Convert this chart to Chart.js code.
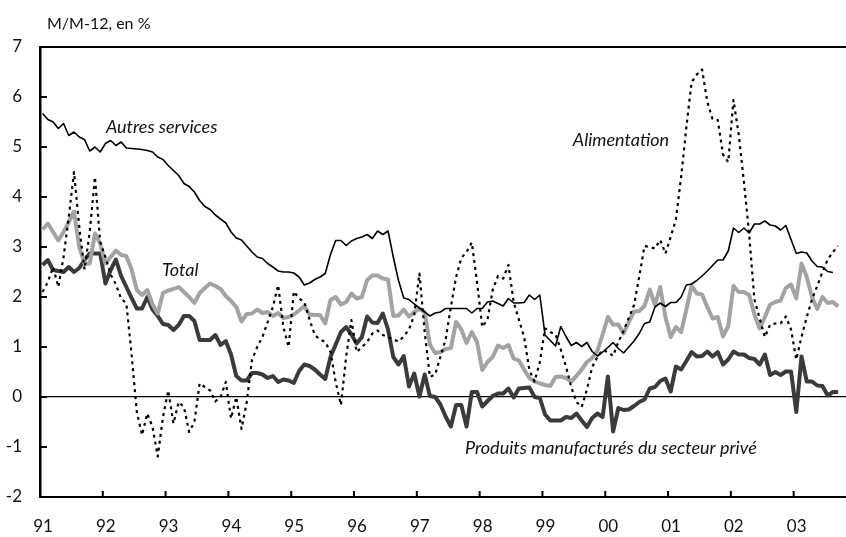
<!DOCTYPE html>
<html>
<head>
<meta charset="utf-8">
<script src="https://cdn.jsdelivr.net/npm/chart.js@4.4.1/dist/chart.umd.min.js"></script>
<style>
  body { margin: 0; background: #fff; }
  #wrap { width: 846px; height: 537px; position: relative; }
</style>
</head>
<body>
<div id="wrap"><canvas id="inflationChart"></canvas></div>
<script>
// Glissement annuel, en %, données mensuelles de janvier 1991 à septembre 2003
const yearLabels = ['91', '92', '93', '94', '95', '96', '97', '98', '99', '00', '01', '02', '03'];

const autresServices = [
    5.67, 5.55, 5.5, 5.37, 5.47, 5.23, 5.3, 5.2, 5.15, 4.92, 5.0, 4.9,
    5.07, 5.13, 5.03, 5.1, 4.98, 4.97, 4.96, 4.95, 4.93, 4.9, 4.8, 4.75,
    4.63, 4.53, 4.43, 4.27, 4.21, 4.1, 3.93, 3.81, 3.75, 3.64, 3.56, 3.48,
    3.3, 3.18, 3.14, 3.02, 2.9, 2.8, 2.77, 2.67, 2.6, 2.52, 2.5, 2.5,
    2.48, 2.4, 2.24, 2.28, 2.35, 2.4, 2.47, 2.85, 3.13, 3.13, 3.03, 3.12,
    3.17, 3.2, 3.25, 3.17, 3.32, 3.25, 3.32, 2.8, 2.33, 1.98, 1.95, 1.86,
    1.78, 1.7, 1.62, 1.68, 1.7, 1.77, 1.77, 1.77, 1.77, 1.77, 1.68, 1.77,
    1.77, 1.9, 1.92, 1.87, 1.82, 1.97, 1.88, 1.88, 1.89, 2.04, 1.95, 2.04,
    1.24, 1.13, 1.02, 1.41, 1.21, 1.03, 1.09, 1.01, 1.09, 0.91, 0.82, 0.9,
    0.99, 1.09, 0.97, 0.88, 1.0, 1.12, 1.27, 1.47, 1.5, 1.8, 1.88, 1.81,
    1.89, 1.89, 2.0, 2.24, 2.26, 2.33, 2.42, 2.52, 2.63, 2.74, 2.74, 2.92,
    3.38, 3.29, 3.38, 3.28, 3.46, 3.46, 3.52, 3.44, 3.42, 3.34, 3.43, 3.15,
    2.87, 2.9, 2.88, 2.72, 2.61, 2.6, 2.51, 2.49
];

const alimentation = [
    2.1, 2.3, 2.6, 2.2, 2.8, 3.6, 4.5, 3.4, 2.55, 3.3, 4.4, 3.1,
    2.8, 2.45, 2.25, 1.97, 1.87, 0.85, -0.3, -0.76, -0.33, -0.6, -1.19, -0.4,
    0.13, -0.53, -0.1, -0.2, -0.7, -0.5, 0.27, 0.2, 0.13, -0.09, 0.0, 0.3,
    -0.43, 0.0, -0.64, -0.1, 0.74, 1.0, 1.2, 1.5, 1.8, 2.24, 1.4, 1.0,
    2.11, 1.97, 1.9, 1.55, 1.24, 1.15, 1.1, 0.9, 0.3, -0.16, 0.81, 1.54,
    0.9, 1.0, 1.1, 1.27, 1.33, 1.24, 1.2, 1.15, 1.11, 1.21, 1.35, 1.64,
    2.47, 1.3, 0.4, 0.45, 0.8, 1.15, 1.8, 2.4, 2.78, 2.9, 3.09, 2.3,
    1.4, 1.55, 2.14, 2.42, 2.37, 2.64, 1.9, 1.55, 1.2, 0.54, 0.31, 0.7,
    1.37, 1.3, 1.25, 0.95, 0.61, 0.2, -0.1, -0.2, 0.15, 0.6, 0.8, 0.94,
    0.9, 0.82, 1.1, 1.32, 1.58, 1.84, 2.41, 3.02, 3.0, 2.97, 3.14, 2.87,
    3.2, 3.55, 4.4, 5.4, 6.3, 6.45, 6.55, 5.9, 5.56, 5.54, 4.85, 4.7,
    5.94, 5.25, 4.3, 3.25, 1.95, 1.57, 1.2, 1.45, 1.47, 1.47, 1.61, 1.35,
    0.75, 1.2, 1.6, 1.95, 2.22, 2.5, 2.75, 2.9, 3.02
];

const total = [
    3.35, 3.47, 3.3, 3.13, 3.3, 3.5, 3.71, 3.0, 2.67, 2.67, 3.27, 3.07,
    2.67, 2.8, 2.93, 2.84, 2.82, 2.55, 2.14, 2.04, 2.14, 1.85, 1.67, 2.08,
    2.13, 2.16, 2.2, 2.1, 2.0, 1.88, 2.08, 2.18, 2.27, 2.22, 2.16, 2.02,
    1.92, 1.8, 1.51, 1.66, 1.67, 1.75, 1.68, 1.7, 1.62, 1.68, 1.58, 1.6,
    1.65, 1.73, 1.82, 1.65, 1.64, 1.64, 1.47, 1.94, 2.0, 1.85, 1.9, 2.07,
    1.97, 2.0, 2.34, 2.43, 2.43, 2.37, 2.35, 1.62, 1.63, 1.75, 1.61, 1.7,
    1.76, 1.7, 1.05, 0.88, 0.9, 0.96, 0.98, 1.5, 1.35, 1.08, 1.3, 1.1,
    0.54, 0.7, 0.8, 1.03, 0.98, 1.04, 0.77, 0.73, 0.55, 0.38, 0.31, 0.27,
    0.24, 0.22, 0.4, 0.41, 0.38, 0.31, 0.42, 0.55, 0.7, 0.78, 0.92, 1.25,
    1.6, 1.45, 1.45, 1.27, 1.5, 1.71, 1.72, 1.82, 2.15, 1.84, 2.2, 1.6,
    1.2, 1.4, 1.3, 1.75, 2.22, 2.07, 2.05, 1.8, 1.57, 1.6, 1.21, 1.42,
    2.22, 2.1, 2.1, 2.04, 1.65, 1.37, 1.6, 1.85, 1.9, 1.93, 2.18, 2.25,
    1.97, 2.67, 2.4, 2.0, 1.76, 2.0, 1.88, 1.9, 1.81
];

const produitsManufactures = [
    2.64, 2.74, 2.54, 2.52, 2.5, 2.6, 2.5, 2.58, 2.74, 2.87, 2.87, 2.87,
    2.27, 2.54, 2.75, 2.42, 2.2, 1.98, 1.77, 1.77, 2.0, 1.75, 1.62, 1.46,
    1.44, 1.34, 1.44, 1.62, 1.62, 1.52, 1.14, 1.14, 1.14, 1.24, 1.04, 1.12,
    0.85, 0.42, 0.33, 0.33, 0.48, 0.48, 0.45, 0.38, 0.42, 0.3, 0.35, 0.33,
    0.28, 0.52, 0.65, 0.62, 0.55, 0.45, 0.36, 0.8, 1.05, 1.3, 1.4, 1.25,
    1.07, 1.2, 1.61, 1.49, 1.48, 1.67, 1.35, 0.8, 0.65, 0.82, 0.21, 0.47,
    0.01, 0.45, 0.02, 0.0, -0.15, -0.39, -0.59, -0.16, -0.16, -0.59, 0.1, 0.1,
    -0.19, -0.08, 0.02, 0.07, 0.07, 0.17, -0.01, 0.17, 0.18, 0.19, 0.0, -0.02,
    -0.35, -0.47, -0.47, -0.47, -0.4, -0.42, -0.33, -0.47, -0.6, -0.42, -0.33, -0.4,
    0.41, -0.69, -0.22, -0.26, -0.25, -0.18, -0.1, -0.05, 0.17, 0.2, 0.32, 0.37,
    0.11, 0.61, 0.55, 0.72, 0.9, 0.81, 0.82, 0.91, 0.81, 0.9, 0.65, 0.75,
    0.91, 0.85, 0.85, 0.78, 0.76, 0.65, 0.85, 0.44, 0.5, 0.44, 0.51, 0.51,
    -0.3, 0.81, 0.31, 0.31, 0.23, 0.22, 0.03, 0.1, 0.1
];

// Libellés placés sur le graphique (en coordonnées mois / %)
const annotations = [
    { text: 'Autres services', month: 12.6, value: 5.4 },
    { text: 'Total', month: 23.3, value: 2.54 },
    { text: 'Alimentation', month: 101.8, value: 5.14 },
    { text: 'Produits manufacturés du secteur privé', month: 81.2, value: -1.02 }
];

// one point per month, centred in its month
function toPoints(values) {
    return values.map((v, i) => ({ x: i + 0.5, y: v }));
}

// inward tick marks, top frame, unit label and series labels
const decorations = {
    id: 'decorations',
    afterDatasetsDraw(chart) {
        const { ctx, chartArea, scales } = chart;
        ctx.save();
        ctx.strokeStyle = '#000';
        ctx.lineWidth = 2;
        ctx.beginPath();
        ctx.moveTo(chartArea.left, chartArea.top);
        ctx.lineTo(chartArea.right, chartArea.top);
        scales.y.ticks.forEach(t => {
            const y = scales.y.getPixelForValue(t.value);
            ctx.moveTo(chartArea.left, y);
            ctx.lineTo(chartArea.left + 7, y);
        });
        scales.x.ticks.forEach(t => {
            const x = scales.x.getPixelForValue(t.value);
            ctx.moveTo(x, chartArea.bottom);
            ctx.lineTo(x, chartArea.bottom - 6);
        });
        ctx.stroke();

        ctx.fillStyle = '#111';
        ctx.textBaseline = 'middle';
        ctx.textAlign = 'left';
        ctx.font = '16px Lato';
        ctx.fillText('M/M-12, en %', 47, 24);

        ctx.font = 'italic 18px Lato';
        annotations.forEach(a => {
            ctx.fillText(a.text, scales.x.getPixelForValue(a.month), scales.y.getPixelForValue(a.value));
        });
        ctx.restore();
    }
};

document.addEventListener('DOMContentLoaded', () => {
    const ctx = document.getElementById('inflationChart').getContext('2d');
    Chart.defaults.font.family = 'Lato';
    Chart.defaults.color = '#111';

    new Chart(ctx, {
        type: 'line',
        data: {
            datasets: [
                { label: 'Autres services', data: toPoints(autresServices), borderColor: '#000', borderWidth: 1.6 },
                { label: 'Alimentation', data: toPoints(alimentation), borderColor: '#000', borderWidth: 2.2, borderDash: [3, 4] },
                { label: 'Total', data: toPoints(total), borderColor: '#a3a3a3', borderWidth: 4 },
                { label: 'Produits manufacturés du secteur privé', data: toPoints(produitsManufactures), borderColor: '#3b3b3b', borderWidth: 4 }
            ]
        },
        options: {
            responsive: true,
            maintainAspectRatio: false,
            animation: false,
            events: [],
            layout: { padding: { top: 47, left: 0, right: 0, bottom: 0 } },
            elements: {
                point: { radius: 0 },
                line: { tension: 0, borderJoinStyle: 'round', fill: false }
            },
            plugins: {
                legend: { display: false },
                tooltip: { enabled: false }
            },
            scales: {
                x: {
                    type: 'linear',
                    min: 0,
                    max: 154,
                    afterFit(scale) { scale.height = 40; },
                    border: { display: true, color: '#000', width: 2 },
                    grid: { display: false },
                    ticks: {
                        stepSize: 12,
                        includeBounds: false,
                        autoSkip: false,
                        maxRotation: 0,
                        padding: 11,
                        labelOffset: 3,
                        font: { size: 17 },
                        callback: value => yearLabels[value / 12] || ''
                    }
                },
                y: {
                    min: -2,
                    max: 7,
                    afterFit(scale) { scale.width = 40; },
                    border: { display: true, color: '#000', width: 2.5 },
                    grid: {
                        drawTicks: false,
                        color: c => c.tick && c.tick.value === 0 ? '#000' : 'rgba(0,0,0,0)',
                        lineWidth: 1.2
                    },
                    ticks: {
                        stepSize: 1,
                        padding: 18,
                        font: { size: 17 }
                    }
                }
            }
        },
        plugins: [decorations]
    });
});
</script>
</body>
</html>
